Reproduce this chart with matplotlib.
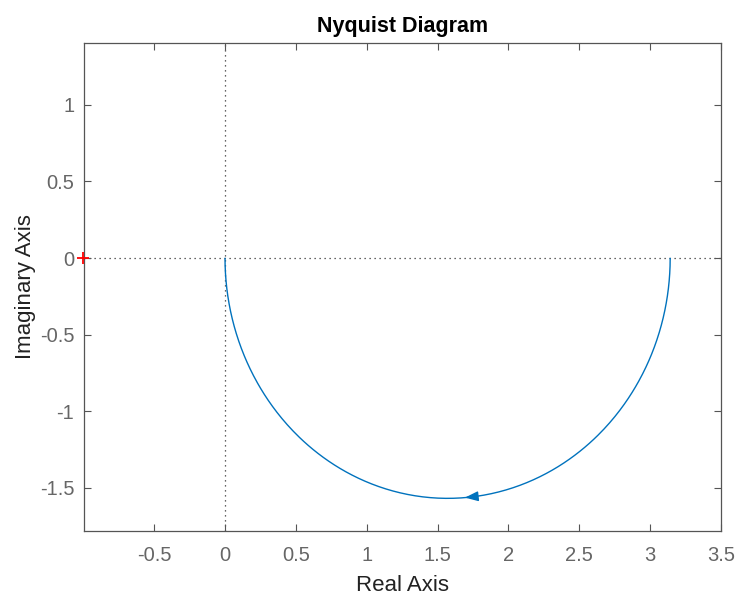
import numpy as np
import matplotlib
matplotlib.use("Agg")
import matplotlib.pyplot as plt

plt.rcParams["font.family"] = ["Liberation Sans", "DejaVu Sans"]

# System: G(s) = K / (s + 1), K ~ pi
num = [3.1416]
den = [1.0, 1.0]
omega = np.logspace(-3, 3, 800)
arrow_omega = [0.89, 0.925]

xticks = [-0.5, 0, 0.5, 1, 1.5, 2, 2.5, 3, 3.5]
xticklabels = ["-0.5", "0", "0.5", "1", "1.5", "2", "2.5", "3", "3.5"]
yticks = [-1.5, -1, -0.5, 0, 0.5, 1]
yticklabels = ["-1.5", "-1", "-0.5", "0", "0.5", "1"]

def resp(w):
    s = 1j * np.asarray(w)
    return np.polyval(num, s) / np.polyval(den, s)

H = resp(omega)
Ha = resp(arrow_omega)

fig = plt.figure(figsize=(7.39, 5.95), dpi=100)
ax = fig.add_axes([0.1137, 0.1076, 0.8619, 0.8201])

blue = "#0072BD"
gray = "#555555"

ax.axhline(0, color="#333333", linestyle=(0, (1, 3)), linewidth=0.9, zorder=1)
ax.axvline(0, color="#333333", linestyle=(0, (1, 3)), linewidth=0.9, zorder=1)
ax.plot(H.real, H.imag, color=blue, linewidth=1.0, zorder=2)
ax.annotate("", xy=(Ha[1].real, Ha[1].imag), xytext=(Ha[0].real, Ha[0].imag),
            arrowprops=dict(arrowstyle="-|>,head_length=0.8,head_width=0.3",
                            color=blue, lw=1.0, shrinkA=0, shrinkB=0), zorder=3)
ax.plot([-1], [0], marker="+", color="red", markersize=9, markeredgewidth=1.3,
        clip_on=False, zorder=4)

ax.set_xlim(-0.995, 3.5)
ax.set_ylim(-1.784, 1.405)
ax.set_xticks(xticks)
ax.set_xticklabels(xticklabels)
ax.set_yticks(yticks)
ax.set_yticklabels(yticklabels)

ax.tick_params(direction="in", top=True, right=True, length=5, width=0.8,
               colors=gray, labelcolor="#666666", labelsize=14.5, pad=11)
ax.tick_params(axis="y", pad=7)
for sp in ax.spines.values():
    sp.set_color(gray)
    sp.set_linewidth(0.9)

ax.set_title("Nyquist Diagram", fontsize=15.5, fontweight="bold", color="black", pad=8)
ax.set_xlabel("Real Axis", fontsize=16, color="#222222", labelpad=7)
ax.set_ylabel("Imaginary Axis", fontsize=16, color="#222222", labelpad=3)

fig.savefig("out.png", dpi=100, facecolor="white")
